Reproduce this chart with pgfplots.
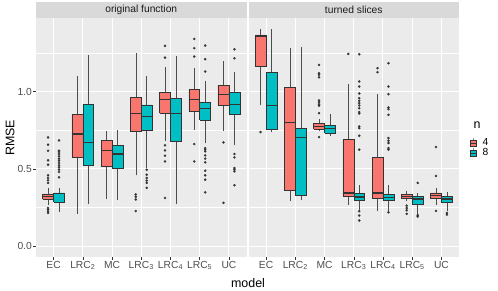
\documentclass[border=0pt]{standalone}
\usepackage{pgfplots}
\pgfplotsset{compat=1.18}
\usepackage{fontspec}
\setmainfont{Liberation Sans}
\definecolor{cfour}{HTML}{F8766D}
\definecolor{ceight}{HTML}{00BFC4}
\definecolor{panelbg}{HTML}{EBEBEB}
\definecolor{stripbg}{HTML}{D9D9D9}
\definecolor{gtwenty}{HTML}{333333}
\definecolor{gthirty}{HTML}{4D4D4D}
\definecolor{gten}{HTML}{1A1A1A}
\newcommand{\tickfont}{\fontsize{10.3}{12}\selectfont}
\newcommand{\titlefont}{\fontsize{12.5}{14}\selectfont}
\pgfplotsset{
  panel/.style={
    scale only axis, width=210.5bp, height=238.5bp,
    xmin=-0.6, xmax=6.6, ymin=-0.07, ymax=1.472,
    axis background/.style={fill=panelbg},
    axis line style={draw=none},
    xtick={0,1,2,3,4,5,6},
    xticklabels={EC,LRC\textsubscript{2},MC,LRC\textsubscript{3},LRC\textsubscript{4},LRC\textsubscript{5},UC},
    ytick={0,0.5,1}, minor ytick={0.25,0.75,1.25},
    xmajorgrids, ymajorgrids, yminorgrids,
    major grid style={white, line width=1bp},
    minor grid style={white, line width=0.5bp},
    tick align=outside, major tick length=2.5bp, minor tick length=0pt,
    xtick pos=left, ytick pos=left,
    tick style={gtwenty, line width=0.5bp},
    ticklabel style={font=\tickfont, text=gthirty},
    xticklabel style={inner sep=1.5bp},
    yticklabel style={inner sep=1.5bp},
    /pgf/number format/assume math mode=true,
    yticklabel style={/pgf/number format/.cd, fixed, fixed zerofill, precision=1},
    every axis title shift=0pt,
    title style={at={(0.5,1)}, anchor=south, fill=stripbg, minimum width=210.5bp,
      minimum height=16bp, inner sep=0pt, text=gten, font=\tickfont},
    clip=false,
  },
  whisk/.style={forget plot, draw=gthirty, line width=0.5bp, mark=none},
  boxs/.style={forget plot, draw=gtwenty, line width=0.5bp, mark=none},
  med/.style={forget plot, draw=gtwenty, line width=1.1bp, mark=none},
  outl/.style={forget plot, only marks, mark=*, mark size=1.15bp,
    mark options={draw=gtwenty, fill=gtwenty, line width=0.2bp}},
}
% #1 position, #2 colour, #3..#7 lower whisker, lower quartile, median, upper quartile, upper whisker
\newcommand{\bx}[7]{%
  \pgfmathsetmacro\xl{#1-0.1875}\pgfmathsetmacro\xr{#1+0.1875}%
  \addplot[whisk] coordinates {(#1,#3) (#1,#4)};
  \addplot[whisk] coordinates {(#1,#6) (#1,#7)};
  \addplot[boxs, fill=#2] coordinates {(\xl,#4) (\xr,#4) (\xr,#6) (\xl,#6) (\xl,#4)};
  \addplot[med] coordinates {(\xl,#5) (\xr,#5)};
}
% #1 position, #2 outlier values separated by \\
\newcommand{\ol}[2]{%
  \addplot[outl] table[header=false, row sep=\\, x expr=#1, y index=0] {#2};
}
\begin{document}
\begin{tikzpicture}
\useasboundingbox (-36bp,-34bp) rectangle (462bp,257bp);
\begin{axis}[panel, title={original function}]
\bx{-0.1875}{cfour}{0.269}{0.303}{0.323}{0.338}{0.376}
\ol{-0.1875}{0.703\\0.656\\0.617\\0.555\\0.527\\0.458\\0.441\\0.426\\0.409\\0.247\\0.237\\0.226\\0.215\\}
\bx{0.1875}{ceight}{0.222}{0.284}{0.340}{0.344}{0.376}
\ol{0.1875}{0.684\\0.617\\0.609\\0.596\\0.581\\0.566\\0.553\\0.538\\0.523\\0.510\\0.495\\0.480\\0.445\\}
\bx{0.8125}{cfour}{0.211}{0.576}{0.725}{0.854}{1.101}
\bx{1.1875}{ceight}{0.275}{0.520}{0.671}{0.918}{1.237}
\bx{1.8125}{cfour}{0.305}{0.514}{0.619}{0.682}{0.742}
\bx{2.1875}{ceight}{0.297}{0.503}{0.596}{0.654}{0.751}
\bx{2.8125}{cfour}{0.458}{0.742}{0.856}{0.963}{1.247}
\ol{2.8125}{0.334\\0.319\\0.302\\0.227\\}
\bx{3.1875}{ceight}{0.505}{0.751}{0.839}{0.914}{1.103}
\ol{3.1875}{0.494\\0.462\\0.441\\0.424\\0.409\\0.377\\}
\bx{3.8125}{cfour}{0.682}{0.858}{0.951}{0.996}{1.161}
\ol{3.8125}{1.295\\1.219\\0.652\\0.619\\0.585\\0.548\\0.312\\}
\bx{4.1875}{ceight}{0.275}{0.677}{0.860}{0.957}{1.232}
\bx{4.8125}{cfour}{0.753}{0.871}{0.951}{1.015}{1.151}
\ol{4.8125}{1.340\\1.280\\1.226\\0.660\\0.548\\}
\bx{5.1875}{ceight}{0.667}{0.817}{0.888}{0.931}{1.071}
\ol{5.1875}{1.297\\1.209\\1.129\\0.634\\0.624\\0.613\\0.587\\0.566\\0.542\\0.488\\0.458\\0.430\\0.348\\}
\bx{5.8125}{cfour}{0.746}{0.910}{0.978}{1.039}{1.200}
\ol{5.8125}{0.671\\0.280\\}
\bx{6.1875}{ceight}{0.652}{0.854}{0.918}{0.994}{1.125}
\ol{6.1875}{1.273\\1.215\\0.596\\0.574\\0.505\\0.495\\0.484\\0.394\\}
\end{axis}
\begin{axis}[panel, at={(212.5bp,0)}, title={turned slices},
  yticklabels={}, ytick style={draw=none},
  legend style={draw=none, fill=none, inner sep=0pt, at={(1,0.5)}, anchor=north west,
    xshift=11bp, font=\tickfont, row sep=0pt, column sep=5bp,
    nodes={inner sep=0.5bp, text height=7.5bp, text depth=1.5bp}},
  legend cell align=left]
\addlegendimage{legend image code/.code={
  \draw[gthirty!60, line width=0.4bp] (3bp,2.8bp) -- (3bp,4.5bp) (3bp,-2.8bp) -- (3bp,-4.5bp);
  \draw[gtwenty, fill=cfour, line width=0.4bp] (0bp,-2.8bp) rectangle (6bp,2.8bp);
  \draw[gtwenty, line width=0.8bp] (0bp,0bp) -- (6bp,0bp);}}
\addlegendentry{4}
\addlegendimage{legend image code/.code={
  \draw[gthirty!60, line width=0.4bp] (3bp,2.8bp) -- (3bp,4.5bp) (3bp,-2.8bp) -- (3bp,-4.5bp);
  \draw[gtwenty, fill=ceight, line width=0.4bp] (0bp,-2.8bp) rectangle (6bp,2.8bp);
  \draw[gtwenty, line width=0.8bp] (0bp,0bp) -- (6bp,0bp);}}
\addlegendentry{8}
\bx{-0.1875}{cfour}{0.910}{1.166}{1.355}{1.366}{1.402}
\ol{-0.1875}{0.738\\}
\bx{0.1875}{ceight}{0.735}{0.753}{0.910}{1.125}{1.402}
\bx{0.8125}{cfour}{0.295}{0.359}{0.800}{1.028}{1.280}
\bx{1.1875}{ceight}{0.297}{0.327}{0.701}{0.763}{1.288}
\bx{1.8125}{cfour}{0.742}{0.759}{0.776}{0.796}{0.824}
\ol{1.8125}{1.172\\1.118\\1.108\\1.092\\0.942\\0.931\\0.918\\0.908\\0.860\\0.705\\}
\bx{2.1875}{ceight}{0.710}{0.729}{0.761}{0.781}{0.854}
\bx{2.8125}{cfour}{0.269}{0.323}{0.344}{0.692}{1.049}
\ol{2.8125}{1.243\\}
\bx{3.1875}{ceight}{0.237}{0.299}{0.318}{0.340}{0.394}
\ol{3.1875}{1.241\\1.065\\1.032\\0.987\\0.957\\0.940\\0.925\\0.910\\0.892\\0.867\\0.858\\0.774\\0.763\\0.714\\0.624\\0.226\\0.198\\0.166\\}
\bx{3.8125}{cfour}{0.230}{0.312}{0.344}{0.576}{0.983}
\ol{3.8125}{1.151\\1.125\\}
\bx{4.1875}{ceight}{0.226}{0.295}{0.314}{0.333}{0.394}
\ol{4.1875}{1.183\\1.032\\0.983\\0.897\\0.886\\0.849\\0.699\\0.682\\0.667\\0.634\\0.624\\0.219\\}
\bx{4.8125}{cfour}{0.290}{0.308}{0.323}{0.335}{0.355}
\ol{4.8125}{0.262\\0.247\\0.232\\0.209\\}
\bx{5.1875}{ceight}{0.204}{0.273}{0.305}{0.320}{0.344}
\ol{5.1875}{0.409\\0.200\\0.191\\}
\bx{5.8125}{cfour}{0.269}{0.312}{0.329}{0.344}{0.376}
\ol{5.8125}{0.641\\0.454\\0.228\\}
\bx{6.1875}{ceight}{0.226}{0.284}{0.305}{0.320}{0.351}
\ol{6.1875}{0.215\\0.204\\}
\end{axis}
\node[font=\titlefont, rotate=90] at (-26bp,119.25bp) {RMSE};
\node[font=\titlefont] at (212bp,-26bp) {model};
\node[font=\titlefont, anchor=base west] at (434bp,128bp) {n};
\end{tikzpicture}
\end{document}
